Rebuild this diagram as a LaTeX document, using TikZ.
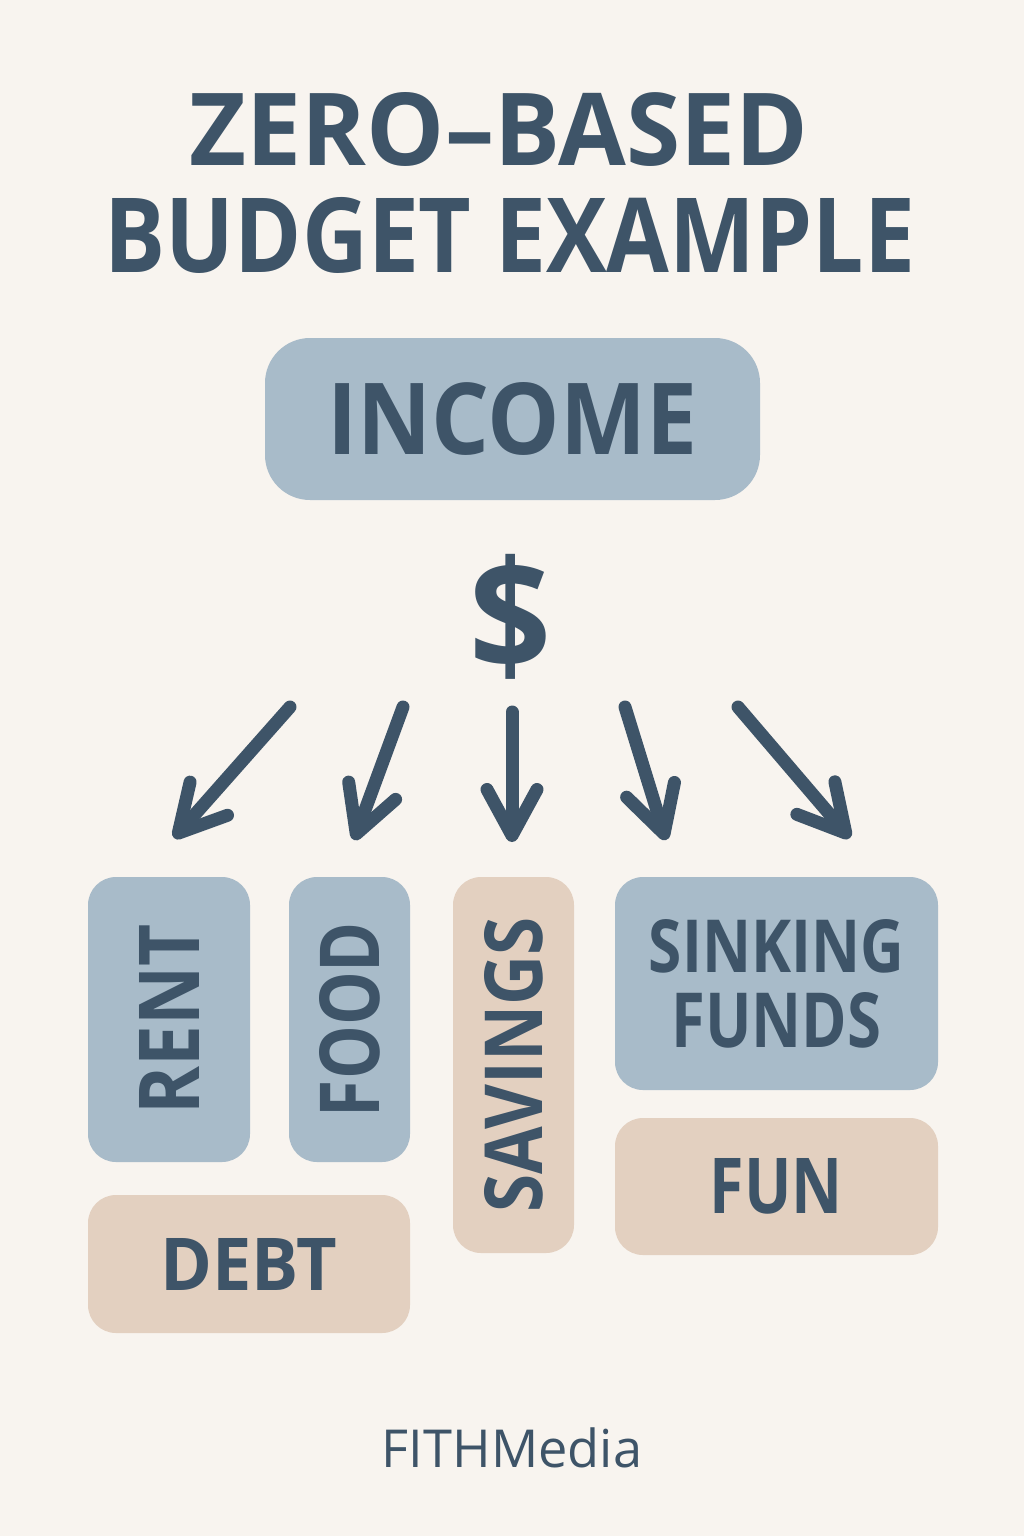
\documentclass[tikz,border=0pt]{standalone}
\usepackage{graphicx}
\usepackage{fontspec}
\setmainfont{Open Sans}
\usetikzlibrary{arrows.meta}
\definecolor{bg}{HTML}{F8F4EF}
\definecolor{ink}{HTML}{3E5468}
\definecolor{bluebox}{HTML}{A8BBC9}
\definecolor{tanbox}{HTML}{E3D0C0}
\tikzset{
  boxblue/.style={fill=bluebox, draw=none, rounded corners=28pt, inner sep=0pt, text=ink, font=\bfseries},
  boxtan/.style={fill=tanbox, draw=none, rounded corners=28pt, inner sep=0pt, text=ink, font=\bfseries},
  titletext/.style={text=ink, font=\bfseries, inner sep=0pt, anchor=base},
  flowarrow/.style={draw=ink, line width=13pt, line cap=round, -{Straight Barb[length=46pt, width=50pt, round]}}
}
\begin{document}
\begin{tikzpicture}[x=1pt,y=-1pt]
\fill[bg] (0,0) rectangle (1024,1536);
\useasboundingbox (0,0) rectangle (1024,1536);

% title
\node[titletext] (t1) at (499,165) {\resizebox{618pt}{73pt}{ZERO–BASED}};
\node[titletext] (t2) at (510,272) {\resizebox{810pt}{75pt}{BUDGET EXAMPLE}};

% income
\node[boxblue, rounded corners=45pt, minimum width=495pt, minimum height=162pt] (income) at (512.5,419) {\resizebox{370pt}{72pt}{INCOME}};

% dollar
\node[text=ink, font=\bfseries, inner sep=0pt] (dollar) at (511,617) {\resizebox*{82pt}{125pt}{\$}};

% arrow coordinates
\coordinate (s1) at (290,707); \coordinate (e1) at (174,838);
\coordinate (s2) at (403,707); \coordinate (e2) at (354,840);
\coordinate (s3) at (512,712); \coordinate (e3) at (512,842);
\coordinate (s4) at (625,707); \coordinate (e4) at (666,840);
\coordinate (s5) at (738,707); \coordinate (e5) at (850,838);
\draw[flowarrow] (s1) -- (e1);
\draw[flowarrow] (s2) -- (e2);
\draw[flowarrow] (s3) -- (e3);
\draw[flowarrow] (s4) -- (e4);
\draw[flowarrow] (s5) -- (e5);

% boxes
\node[boxblue, rotate=90, minimum width=285pt, minimum height=162pt] (rent) at (169,1019.5) {\resizebox{190pt}{60pt}{RENT}};
\node[boxblue, rotate=90, minimum width=285pt, minimum height=121pt] (food) at (349.5,1019.5) {\resizebox{195pt}{60pt}{FOOD}};
\node[boxtan, rotate=90, minimum width=376pt, minimum height=121pt] (savings) at (513.5,1065) {\resizebox{295pt}{58pt}{SAVINGS}};
\node[boxblue, minimum width=323pt, minimum height=213pt, align=center, font=\bfseries\fontsize{20}{75}\selectfont] (sinking) at (776.5,983.5) {\resizebox{255pt}{53pt}{SINKING}\\\resizebox{210pt}{55pt}{FUNDS}};
\node[boxtan, minimum width=323pt, minimum height=137pt] (fun) at (776.5,1186.5) {\resizebox{133pt}{55pt}{FUN}};
\node[boxtan, minimum width=322pt, minimum height=138pt] (debt) at (249,1264) {\resizebox{177pt}{52pt}{DEBT}};

% footer
\node[text=ink, inner sep=0pt, anchor=base] (brand) at (512,1467) {\resizebox{260pt}{!}{FITHMedia}};
\end{tikzpicture}
\end{document}
